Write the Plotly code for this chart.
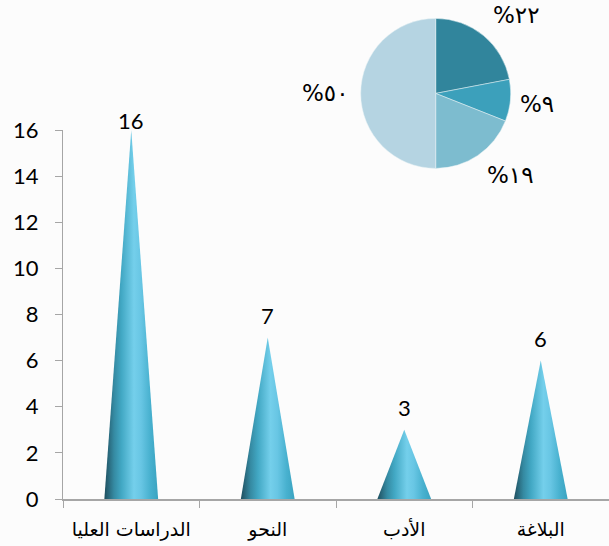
import plotly.graph_objects as go

categories = ["الدراسات العليا", "النحو", "الأدب", "البلاغة"]
values = [16, 7, 3, 6]
y_ticks = [0, 2, 4, 6, 8, 10, 12, 14, 16]
pie_values = [22, 9, 19, 50]
pie_labels = ["%٢٢", "%٩", "%١٩", "%٥٠"]
pie_colors = ["#31859c", "#3ca0bb", "#7dbccf", "#b5d4e2"]

W, H = 609, 546
BG = "#fcfcfc"
HALF = 0.197
LABEL_SHIFT = [10, 22, 22, 22]
LATO = "Lato, Carlito, sans-serif"
STOPS = [[0, "#1d4f5f"], [0.07, "#286578"], [0.18, "#358aa2"], [0.32, "#42a8c4"],
         [0.55, "#74cfeb"], [0.68, "#68c6e4"], [0.85, "#48b1cf"], [1, "#3aa3c0"]]

fig = go.Figure()
for i, v in enumerate(values):
    fig.add_trace(go.Scatter(
        x=[i - HALF, i, i + HALF], y=[0, v, 0], mode="lines", fill="toself",
        line=dict(width=0), hoverinfo="skip", showlegend=False,
        fillgradient=dict(type="horizontal", colorscale=STOPS, start=i - HALF, stop=i + HALF),
    ))
    fig.add_annotation(x=i, y=v, xref="x", yref="y", text=str(v), showarrow=False,
                       yshift=LABEL_SHIFT[i], font=dict(family=LATO, size=22, color="#000"))

# pie: centre (435.7, 93.4), radius 75 px
cx, cy, r = 435.7, 93.4, 75
fig.add_trace(go.Pie(
    values=pie_values, labels=pie_labels, sort=False, direction="clockwise", rotation=0,
    textinfo="none", marker=dict(colors=pie_colors, line=dict(color="#e8f2f5", width=0.5)),
    domain=dict(x=[(cx - r) / W, (cx + r) / W], y=[1 - (cy + r) / H, 1 - (cy - r) / H]),
    showlegend=False, hoverinfo="label+value",
))
PIE_LABEL_POS = [(516, 15), (537, 104), (510, 175), (325, 93)]
for t, (px, py) in zip(pie_labels, PIE_LABEL_POS):
    fig.add_annotation(x=px / W, y=1 - py / H, xref="paper", yref="paper", text=t, showarrow=False,
                       xanchor="center", yanchor="middle",
                       font=dict(family="DejaVu Sans, sans-serif", size=23, color="#000"))

fig.update_layout(
    width=W, height=H, margin=dict(l=0, r=0, t=0, b=0, pad=0, autoexpand=False), autosize=False,
    paper_bgcolor=BG, plot_bgcolor=BG,
    xaxis=dict(domain=[63 / W, 1], range=[-0.5, 3.5], showgrid=False, zeroline=False,
               anchor="y", showline=True, linecolor="#a6a6a6", linewidth=2,
               tickmode="array", tickvals=list(range(len(categories))), ticktext=categories,
               ticks="", ticklabelstandoff=12,
               tickfont=dict(family="DejaVu Sans, sans-serif", size=19, color="#000"),
               minor=dict(ticks="outside", tick0=-0.5, dtick=1, ticklen=7, tickcolor="#a6a6a6",
                          tickwidth=1, showgrid=False)),
    yaxis=dict(domain=[1 - 499 / H, 1 - 130 / H], range=[0, 16], showgrid=False, zeroline=False,
               anchor="x", showline=True, linecolor="#a6a6a6", linewidth=1,
               tickmode="array", tickvals=y_ticks, ticks="outside", ticklen=7,
               tickcolor="#a6a6a6", tickwidth=1, ticklabelstandoff=12,
               tickfont=dict(family=LATO, size=22, color="#000")),
)
fig.write_html("out.html", config=dict(displayModeBar=False),
               post_script="document.body.style.margin='0';document.documentElement.style.background='%s';" % BG)
